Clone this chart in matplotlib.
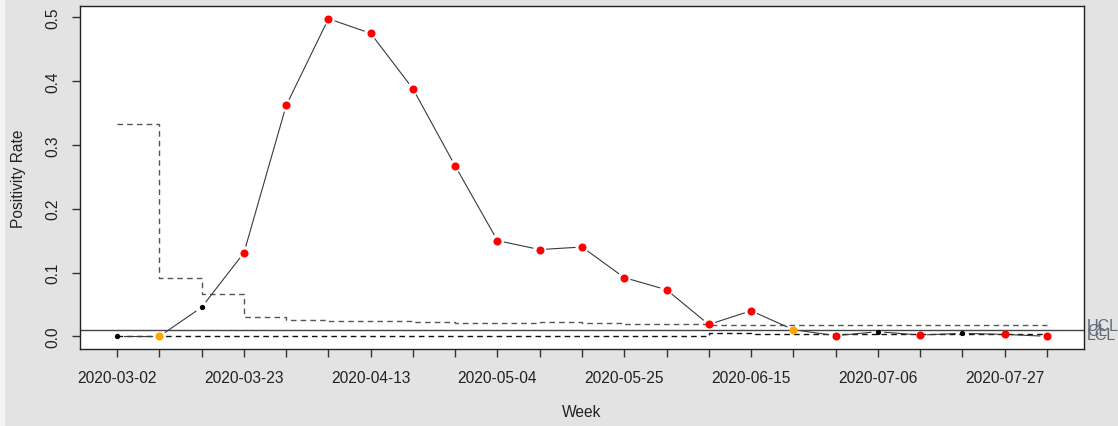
import numpy as np
import matplotlib
matplotlib.use("Agg")
import matplotlib.pyplot as plt
import matplotlib.transforms as mtransforms

# weekly positivity rate (p chart)
weeks = ['2020-03-02', '2020-03-09', '2020-03-16', '2020-03-23', '2020-03-30',
         '2020-04-06', '2020-04-13', '2020-04-20', '2020-04-27', '2020-05-04',
         '2020-05-11', '2020-05-18', '2020-05-25', '2020-06-01', '2020-06-08',
         '2020-06-15', '2020-06-22', '2020-06-29', '2020-07-06', '2020-07-13',
         '2020-07-20', '2020-07-27', '2020-08-03']
rate = [0.0, 0.0, 0.0455, 0.131, 0.362, 0.498, 0.475, 0.388, 0.267, 0.150,
        0.136, 0.140, 0.092, 0.073, 0.0185, 0.040, 0.0104, 0.001, 0.0072,
        0.002, 0.0047, 0.003, 0.0]
ucl = [0.333, 0.092, 0.067, 0.030, 0.0256, 0.024, 0.0233, 0.0225, 0.021,
       0.021, 0.0225, 0.0204, 0.0188, 0.0188, 0.0173, 0.018, 0.018, 0.0175,
       0.0175, 0.0183, 0.0183, 0.0175, 0.0175]
lcl = [0.0, 0.0, 0.0, 0.0, 0.0, 0.0, 0.0, 0.0, 0.0, 0.0, 0.0, 0.0008, 0.0008,
       0.0008, 0.0047, 0.0035, 0.0038, 0.0036, 0.0036, 0.004, 0.004, 0.0036,
       0.0036]
center = 0.0092
run_violations = ['2020-03-09', '2020-06-22']

plt.rcParams['font.family'] = ['Liberation Sans', 'DejaVu Sans']

x = np.arange(1, len(weeks) + 1)
y = np.array(rate)

fig = plt.figure(figsize=(11.18, 4.27), dpi=100)
fig.patch.set_facecolor('#e3e3e3')
fig.patches.append(plt.Rectangle((0, 0), 4 / 1118, 1, transform=fig.transFigure,
                                 color='#f4f4f4', zorder=0))
ax = fig.add_axes([80 / 1118, 77 / 427, 1004 / 1118, 343 / 427])
ax.set_facecolor('white')

ax.set_xlim(1 - 0.04 * (len(x) - 1), len(x) + 0.04 * (len(x) - 1))
ax.set_ylim(-0.04 * max(rate), max(rate) * 1.04)

# control limits
ax.step(x, ucl, where='post', color='#555555', lw=1, ls=(0, (4, 3)), zorder=2)
ax.step(x, lcl, where='post', color='#111111', lw=1, ls=(0, (4, 3)), zorder=2)
ax.axhline(center, color='#444444', lw=1, zorder=2)

# connecting line with gaps round the points (R type="b")
fig.canvas.draw()
pix = ax.transData.transform(np.column_stack([x, y]))
gap = 7
for i in range(len(x) - 1):
    p0, p1 = pix[i], pix[i + 1]
    d = p1 - p0
    L = np.hypot(*d)
    if L <= 2 * gap:
        continue
    u = d / L
    seg = ax.transData.inverted().transform([p0 + u * gap, p1 - u * gap])
    ax.plot(seg[:, 0], seg[:, 1], color='#3a3a3a', lw=0.8, zorder=3)

# points
for xi, yi, wk, u, l in zip(x, y, weeks, ucl, lcl):
    if yi > u or yi < l:
        ax.plot(xi, yi, 'o', color='red', ms=5.8, mec='none', zorder=4)
    elif wk in run_violations:
        ax.plot(xi, yi, 'o', color='orange', ms=5.8, mec='none', zorder=4)
    else:
        ax.plot(xi, yi, 'o', color='black', ms=3.8, mec='none', zorder=4)

# limit labels on the right
trans = mtransforms.blended_transform_factory(ax.transAxes, ax.transData)
for lab, val in [('UCL', ucl[-1]), ('CL', center), ('LCL', lcl[-1])]:
    ax.text(1.003, val, lab, transform=trans, ha='left', va='center',
            fontsize=11.5, color='#5f6a76', clip_on=False)

ax.set_xticks(x)
ax.set_xticklabels([w if i % 3 == 0 else '' for i, w in enumerate(weeks)])
ax.set_yticks([0.0, 0.1, 0.2, 0.3, 0.4, 0.5])
ax.set_yticklabels(['0.0', '0.1', '0.2', '0.3', '0.4', '0.5'], rotation=90, va='center')
ax.tick_params(axis='x', length=6, width=1, color='#333333', pad=9, labelsize=11.2,
               labelcolor='#222222')
ax.tick_params(axis='y', length=6, width=1, color='#333333', pad=8, labelsize=11.2,
               labelcolor='#222222')
for s in ax.spines.values():
    s.set_color('#222222')
    s.set_linewidth(1)

ax.set_xlabel('Week', fontsize=11.2, color='#222222', labelpad=14)
ax.set_ylabel('Positivity Rate', fontsize=11.2, color='#222222', labelpad=14)

fig.savefig('out.png', dpi=100, facecolor=fig.get_facecolor())
